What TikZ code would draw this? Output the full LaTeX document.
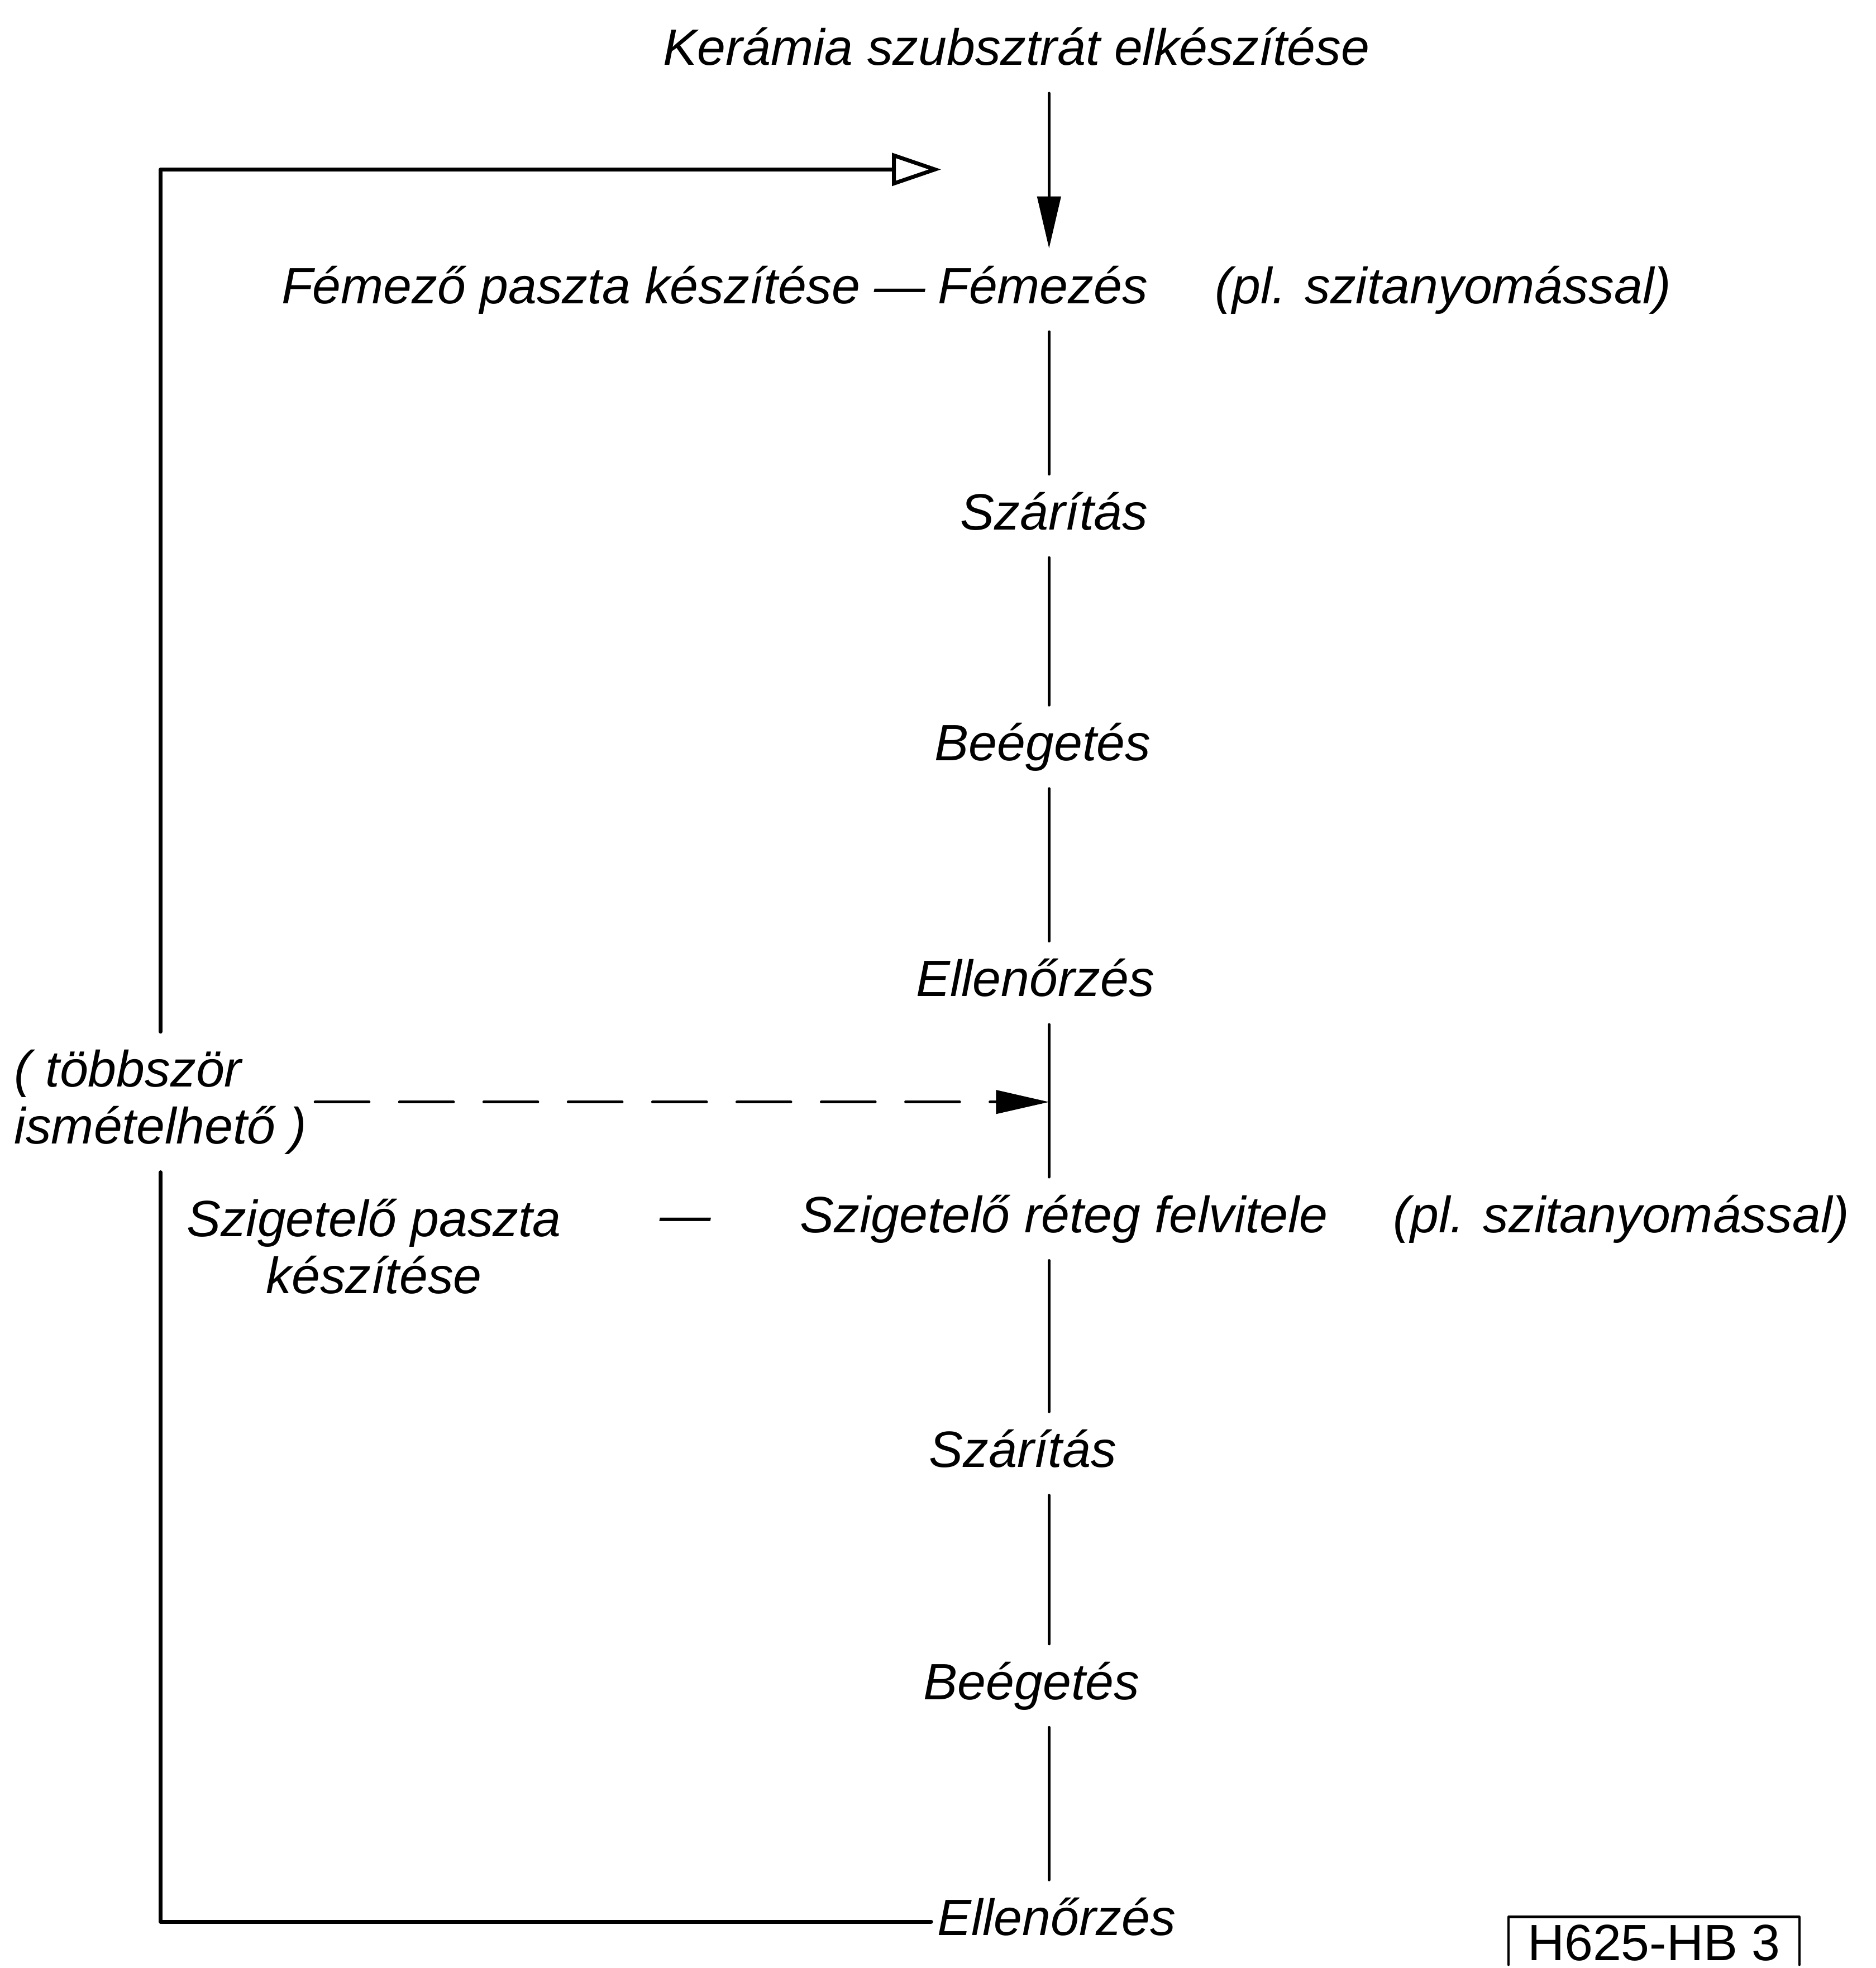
\documentclass[tikz,border=0pt]{standalone}
\usepackage{fontspec}
\setmainfont{Liberation Sans}
\usetikzlibrary{arrows.meta}
\usetikzlibrary{positioning}

\tikzset{
  lbl/.style={font=\fontsize{26}{29}\selectfont\itshape,anchor=base,
    text height=20pt,text depth=6pt,inner xsep=3pt,inner ysep=8pt},
  lbltwo/.style={font=\fontsize{26}{29}\selectfont\itshape,inner xsep=4pt,inner ysep=9pt},
  flow/.style={line width=1.3pt},
  back/.style={line width=2pt},
}

\begin{document}
\begin{tikzpicture}[line cap=round,line join=round,x=0.02246cm,y=-0.02246cm]
\useasboundingbox (0,0) rectangle (1495,1568);
\clip (0,0) rectangle (1495,1568);
\coordinate (spine) at (836,0);
\coordinate (looptop) at (750,135);
% metallization
\node[lbl] (title) at (810,52) {Kerámia szubsztrát elkészítése};
\node[lbl] (pasta1) at (455,242) {Fémező paszta készítése};
\node[lbl] (dash1) at (717,242) {—};
\node[lbl] (fem) at (831,242) {Fémezés};
\node[lbl] (pl1) at (1150,242) {(pl. szitanyomással)};
\node[lbl] (szar1) at (840,422) {Szárítás};
\node[lbl] (beeg1) at (831,606) {Beégetés};
\node[lbl] (ell1) at (825,794) {Ellenőrzés};
% insulation
\node[lbltwo,align=left] (ism) at (128,878) {( többször\\ismételhető )};
\node[lbltwo,align=center] (pasta2) at (298,993) {Szigetelő paszta\\készítése};
\node[lbl] (dash2) at (546,982) {—};
\node[lbl] (szig) at (848,982) {Szigetelő réteg felvitele};
\node[lbl] (pl2) at (1292,982) {(pl. szitanyomással)};
\node[lbl] (szar2) at (815,1169) {Szárítás};
\node[lbl] (beeg2) at (822,1354) {Beégetés};
\node[lbl] (ell2) at (842,1542) {Ellenőrzés};
\node[font=\fontsize{26}{28}\selectfont,anchor=base,minimum width=5.19cm,
  text height=20pt,text depth=0pt,inner ysep=2pt] (code) at (1318,1562) {H625-HB 3};
\draw[line width=1.2pt] (code.south west) -- (code.north west) -- (code.north east) -- (code.south east);

\draw[flow,-{Triangle[length=0.93cm,width=0.42cm]}] (title.south -| spine) -- (fem.north -| spine);
\foreach \a/\b in {fem/szar1,szar1/beeg1,beeg1/ell1,ell1/szig,szig/szar2,szar2/beeg2,beeg2/ell2}
  \draw[flow] (\a.south -| spine) -- (\b.north -| spine);
\draw[flow,dash pattern=on 0.97cm off 0.54cm,-{Triangle[length=0.95cm,width=0.42cm]}]
  (ism.east) -- (ism.east -| spine);
% repeat loop
\draw[back,-{Triangle[open,length=0.88cm,width=0.58cm]}] (ism.north) |- (looptop);
\draw[back] (ell2.west) -| (ism.south);
\end{tikzpicture}
\end{document}
